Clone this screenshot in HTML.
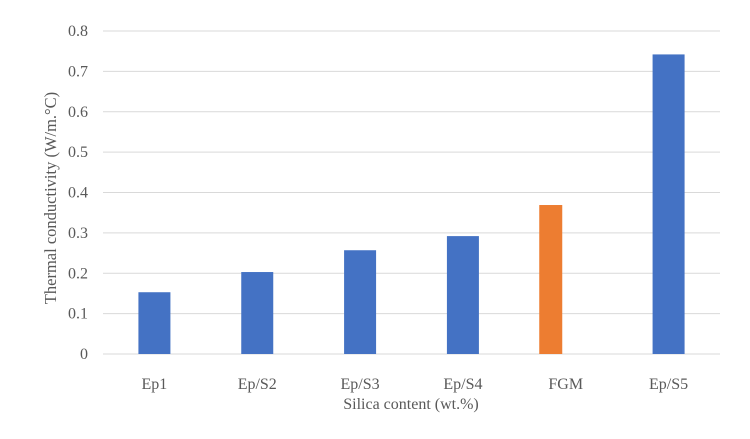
<!DOCTYPE html>
<html><head><meta charset="utf-8"><style>
body{margin:0;background:#fff}
text{font-family:"Liberation Serif",serif;fill:#595959}
</style></head><body>
<svg id="c" width="750" height="434" xmlns="http://www.w3.org/2000/svg">
<rect width="750" height="434" fill="#fff"/>
</svg>
<script>
const categories=["Ep1","Ep/S2","Ep/S3","Ep/S4","FGM","Ep/S5"];
const values=[0.153,0.203,0.257,0.292,0.369,0.742];
const highlighted=[false,false,false,false,true,false];
const yTicks=[0,0.1,0.2,0.3,0.4,0.5,0.6,0.7,0.8];
const NS="http://www.w3.org/2000/svg";
const svg=document.getElementById('c');
const x0=103,x1=720,y0=354,y1=31,yMax=0.8;
const band=(x1-x0)/categories.length;
const ys=v=>y0-(v/yMax)*(y0-y1);
const xc=i=>x0+band*(i+0.5);
function mk(t,a){const e=document.createElementNS(NS,t);for(const k in a)e.setAttribute(k,a[k]);svg.appendChild(e);return e;}
yTicks.forEach(v=>{
  const g=mk('line',{x1:x0,x2:x1,y1:ys(v),y2:ys(v),stroke:'#d9d9d9','stroke-width':1});
  
  
  const t=mk('text',{x:88,y:ys(v)+5,'text-anchor':'end','font-size':16});
  t.textContent=String(v);
  
  
});
categories.forEach((c,i)=>{
  const hl=highlighted[i];
  const w=hl?23:32;
  const cx=hl?xc(i)-15:xc(i);
  const b=mk('rect',{x:cx-w/2,y:ys(values[i]),width:w,height:y0-ys(values[i]),fill:hl?'#ed7d31':'#4472c4'});
  
  
  const t=mk('text',{x:xc(i),y:389,'text-anchor':'middle','font-size':16});
  t.textContent=c;
  
  
});
const xt=mk('text',{x:411,y:409,'text-anchor':'middle','font-size':16});
xt.textContent='Silica content (wt.%)';


const yt=mk('text',{x:0,y:0,'text-anchor':'middle','font-size':16.5,transform:'translate(56,198) rotate(-90)'});
yt.textContent='Thermal conductivity (W/m.°C)';


</script>
</body></html>
